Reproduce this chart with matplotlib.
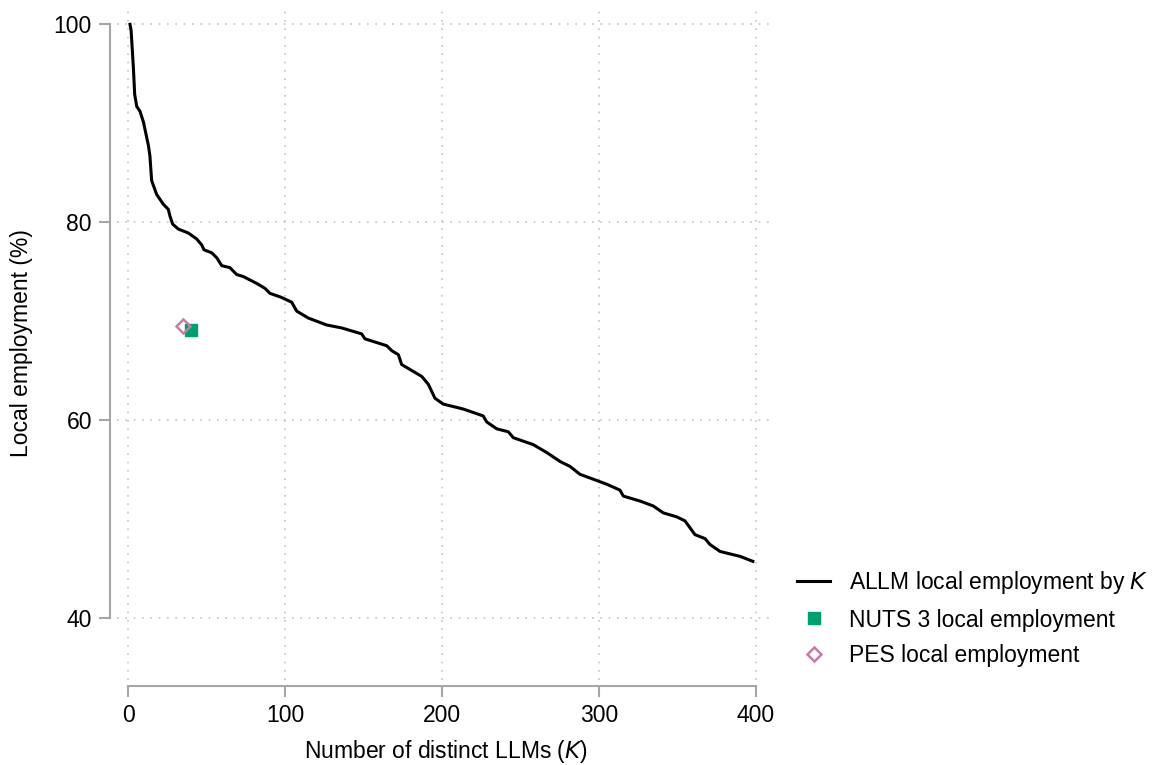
import matplotlib.pyplot as plt

plt.rcParams['font.family'] = ['Liberation Sans', 'DejaVu Sans']

# ALLM local employment share by number of distinct LLMs
k_values = [1.1, 1.8, 3.2, 4.1, 5.4, 7.5, 9.7, 12.9, 13.8, 14.9, 18.1, 22.4,
            25.5, 26.6, 28.3, 31.9, 38.3, 43.6, 46.8, 48.3, 53.2, 56.4, 59.6,
            64.8, 69.1, 73.3, 81.9, 87.2, 90.3, 97.5, 104.2, 107.4, 114.8,
            126.5, 136.1, 148.8, 150.9, 164.8, 168.0, 172.2, 174.3, 177.5,
            187.1, 191.3, 193.4, 195.5, 200.8, 213.6, 226.3, 228.5, 234.9,
            242.3, 245.5, 258.2, 266.8, 275.3, 281.6, 288.0, 296.5, 305.0,
            313.5, 315.6, 326.2, 334.7, 341.1, 349.6, 354.9, 361.3, 367.7,
            370.9, 377.3, 390.1, 398.2]
allm_emp = [100.0, 99.4, 95.8, 92.9, 91.7, 91.2, 90.1, 87.7, 86.7, 84.2, 82.8,
            81.8, 81.3, 80.6, 79.8, 79.3, 78.9, 78.3, 77.7, 77.2, 76.9, 76.4,
            75.6, 75.4, 74.7, 74.5, 73.8, 73.3, 72.8, 72.4, 71.9, 71.0, 70.3,
            69.6, 69.3, 68.7, 68.2, 67.5, 67.0, 66.6, 65.6, 65.3, 64.4, 63.6,
            62.9, 62.2, 61.6, 61.1, 60.4, 59.8, 59.1, 58.8, 58.2, 57.5, 56.7,
            55.8, 55.3, 54.5, 54.0, 53.5, 52.9, 52.3, 51.8, 51.3, 50.6, 50.2,
            49.8, 48.4, 48.0, 47.4, 46.7, 46.2, 45.7]

nuts3_k = [40]
nuts3_emp = [69.1]
pes_k = [35]
pes_emp = [69.5]

fig = plt.figure(figsize=(11.57, 7.65), dpi=100)
ax = fig.add_axes([0.1011, 0.1111, 0.5687, 0.8797])

ax.plot(k_values, allm_emp, color='black', lw=2.2,
        label='ALLM local employment by $K$')
ax.plot(nuts3_k, nuts3_emp, ls='none', marker='s', ms=8, color='#009E73',
        label='NUTS 3 local employment')
ax.plot(pes_k, pes_emp, ls='none', marker='D', ms=7, mfc='none', mec='#CC79A7',
        mew=1.8, label='PES local employment')

ax.set_xlim(-7.2, 412.3)
ax.set_ylim(33.7, 101.75)
ax.set_xticks([0, 100, 200, 300, 400])
ax.set_yticks([40, 60, 80, 100])
ax.grid(True, ls=(0, (1, 4)), color='#c4c4c4', lw=1.2)

for side in ['top', 'right']:
    ax.spines[side].set_visible(False)
ax.spines['left'].set_position(('outward', 5))
ax.spines['bottom'].set_position(('outward', 4.5))
ax.spines['left'].set_bounds(40, 100)
ax.spines['bottom'].set_bounds(0, 400)
for side in ['left', 'bottom']:
    ax.spines[side].set_color('#a6a6a6')
    ax.spines[side].set_linewidth(1.5)
ax.tick_params(colors='#a6a6a6', labelcolor='black', length=8, width=1.5,
               labelsize=16.5, pad=5)

ax.set_xlabel('Number of distinct LLMs ($K$)', fontsize=16.5, labelpad=8)
ax.set_ylabel('Local employment (%)', fontsize=16.5, labelpad=15)

fig.legend(loc='center left', bbox_to_anchor=(797 / 1157, 147 / 765),
           frameon=False, fontsize=16.5, borderpad=0, borderaxespad=0,
           handlelength=1.45, handletextpad=0.8, labelspacing=0.55,
           numpoints=1)

fig.savefig('out.png', dpi=100)
